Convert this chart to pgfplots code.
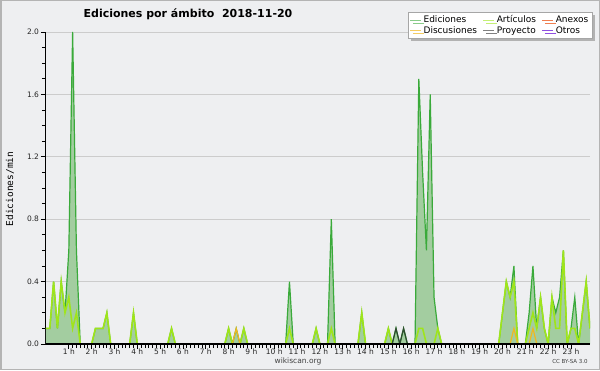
\documentclass[border=0pt]{standalone}
\usepackage{pgfplots}
\pgfplotsset{compat=1.18}
\usepackage{fontspec}
\setmainfont{DejaVu Sans}
\newfontfamily\monofont{DejaVu Sans Mono}
\usetikzlibrary{shadows}
\definecolor{bg}{HTML}{EEEFF1}
\definecolor{frame}{HTML}{B4B4B4}
\definecolor{gridc}{HTML}{CCCCCC}
\definecolor{edline}{HTML}{3AAA3A}
\definecolor{edfill}{HTML}{A3CDA0}
\definecolor{artc}{HTML}{9FE51A}
\definecolor{anexc}{HTML}{F07F50}
\definecolor{discc}{HTML}{F0B820}
\definecolor{proyc}{HTML}{2F4A2F}
\definecolor{otrosc}{HTML}{9050E0}
\begin{document}
\begin{tikzpicture}[x=1pt,y=1pt]
\useasboundingbox (0,0) rectangle (600,370);
\fill[bg] (0,0) rectangle (600,370);
\draw[frame, line width=1.5pt] (0.75,0.75) rectangle (599.25,369.25);
\node[font=\fontsize{11}{13}\selectfont\bfseries] at (188,356) {Ediciones por ámbito\ \ 2018-11-20};
\node[rotate=90, font=\fontsize{9.5}{11}\monofont] at (10,181) {Ediciones/min};
\node[font=\fontsize{7.5}{9}\selectfont, text=black!75] at (298,8.5) {wikiscan.org};
\node[font=\fontsize{5.5}{7}\selectfont, text=black!75] at (570,8.5) {CC BY-SA 3.0};
\begin{axis}[
  at={(46pt,26pt)}, anchor=south west,
  scale only axis, width=544pt, height=312pt,
  xmin=0, xmax=143, ymin=0, ymax=2.0,
  axis x line*=bottom, axis y line*=left,
  axis line style={black, line width=1pt, -},
  ytick={0,0.4,0.8,1.2,1.6,2.0},
  yticklabels={0.0,0.4,0.8,1.2,1.6,2.0},
  minor y tick num=3,
  xtick={6,12,...,138},
  xticklabels={1 h,2 h,3 h,4 h,5 h,6 h,7 h,8 h,9 h,10 h,11 h,12 h,13 h,14 h,15 h,16 h,17 h,18 h,19 h,20 h,21 h,22 h,23 h},
  minor x tick num=5,
  tick align=outside,
  tick style={black, line width=0.8pt},
  major tick length=5pt, minor tick length=4pt,
  ymajorgrids, grid style={gridc, line width=0.8pt},
  ticklabel style={font=\fontsize{7.5}{9}\selectfont, text=black!85},
  xticklabel style={yshift=3.5pt},
  yticklabel style={xshift=1.5pt},
  legend columns=3,
  legend cell align=left,
  legend image code/.code={\draw[#1, line width=0.8pt] (0pt,0pt) -- (11pt,0pt);},
  legend style={at={(1.0037,1.064)}, anchor=north east, draw=gray!70, fill=white,
    font=\fontsize{9}{10}\selectfont, inner sep=1.5pt, row sep=-2pt,
    /tikz/every even column/.append style={column sep=4pt},
    drop shadow={shadow xshift=3pt, shadow yshift=-3pt, fill=gray!60, opacity=1}},
]
\addplot[draw=none, fill=edfill, forget plot] coordinates {
(0,0.1)(1,0.1)(2,0.4)(3,0.1)(4,0.4)(5,0.2)(6,0.6)(7,2.0)(8,0.6)(9,0)(12,0)(13,0.1)(14,0.1)(15,0.1)(16,0.2)(17,0)(22,0)(23,0.2)(24,0)(32,0)(33,0.1)(34,0)(47,0)(48,0.1)(49,0)(50,0.1)(51,0)(52,0.1)(53,0)(63,0)(64,0.4)(65,0)(70,0)(71,0.1)(72,0)(74,0)(75,0.8)(76,0)(82,0)(83,0.2)(84,0)(89,0)(90,0.1)(91,0)(92,0.1)(93,0)(94,0.1)(95,0)(97,0)(98,1.7)(99,1.1)(100,0.6)(101,1.6)(102,0.3)(103,0.1)(104,0)(119,0)(120,0.2)(121,0.4)(122,0.3)(123,0.5)(124,0)(126,0)(127,0.2)(128,0.5)(129,0.1)(130,0.3)(131,0.1)(132,0)(133,0.3)(134,0.2)(135,0.3)(136,0.6)(137,0)(138,0.1)(139,0.3)(140,0)(141,0.2)(142,0.4)(143,0.1)
} \closedcycle;
\addplot[edline, line width=1.2pt, forget plot] coordinates {
(0,0.1)(1,0.1)(2,0.4)(3,0.1)(4,0.4)(5,0.2)(6,0.6)(7,2.0)(8,0.6)(9,0)(12,0)(13,0.1)(14,0.1)(15,0.1)(16,0.2)(17,0)(22,0)(23,0.2)(24,0)(32,0)(33,0.1)(34,0)(47,0)(48,0.1)(49,0)(50,0.1)(51,0)(52,0.1)(53,0)(63,0)(64,0.4)(65,0)(70,0)(71,0.1)(72,0)(74,0)(75,0.8)(76,0)(82,0)(83,0.2)(84,0)(89,0)(90,0.1)(91,0)(92,0.1)(93,0)(94,0.1)(95,0)(97,0)(98,1.7)(99,1.1)(100,0.6)(101,1.6)(102,0.3)(103,0.1)(104,0)(119,0)(120,0.2)(121,0.4)(122,0.3)(123,0.5)(124,0)(126,0)(127,0.2)(128,0.5)(129,0.1)(130,0.3)(131,0.1)(132,0)(133,0.3)(134,0.2)(135,0.3)(136,0.6)(137,0)(138,0.1)(139,0.3)(140,0)(141,0.2)(142,0.4)(143,0.1)
};
\addplot[artc, line width=1.6pt, forget plot] coordinates {
(0,0.1)(1,0.1)(2,0.4)(3,0.1)(4,0.4)(5,0.2)(6,0.3)(7,0.1)(8,0.2)(9,0)(12,0)(13,0.1)(14,0.1)(15,0.1)(16,0.2)(17,0)(22,0)(23,0.2)(24,0)(32,0)(33,0.1)(34,0)(47,0)(48,0.1)(49,0)(51,0)(52,0.1)(53,0)(63,0)(64,0.1)(65,0)(70,0)(71,0.1)(72,0)(74,0)(75,0.1)(76,0)(82,0)(83,0.2)(84,0)(89,0)(90,0.1)(91,0)(97,0)(98,0.1)(99,0.1)(100,0)(102,0)(103,0.1)(104,0)(119,0)(120,0.2)(121,0.4)(122,0.3)(123,0.4)(124,0)(126,0)(127,0.1)(128,0.2)(129,0.1)(130,0.3)(131,0.1)(132,0)(133,0.3)(134,0.1)(135,0.1)(136,0.6)(137,0)(138,0.1)(139,0.1)(140,0)(141,0.2)(142,0.4)(143,0.1)
};
\addplot[discc, line width=1.2pt, forget plot] coordinates {
(49,0)(50,0.1)(51,0)(122,0)(123,0.1)(124,0)(127,0)(128,0.1)(129,0)
};
\addplot[proyc, line width=1.2pt, forget plot] coordinates {
(91,0)(92,0.1)(93,0)(94,0.1)(95,0)
};
\draw[black, line width=1.6pt] (rel axis cs:0,0) -- (rel axis cs:1,0);
\addlegendimage{edline!60}
\addlegendentry{Ediciones}
\addlegendimage{artc!60}
\addlegendentry{Artículos}
\addlegendimage{anexc}
\addlegendentry{Anexos}
\addlegendimage{discc!70}
\addlegendentry{Discusiones}
\addlegendimage{gray}
\addlegendentry{Proyecto}
\addlegendimage{otrosc}
\addlegendentry{Otros}
\end{axis}
\end{tikzpicture}
\end{document}
